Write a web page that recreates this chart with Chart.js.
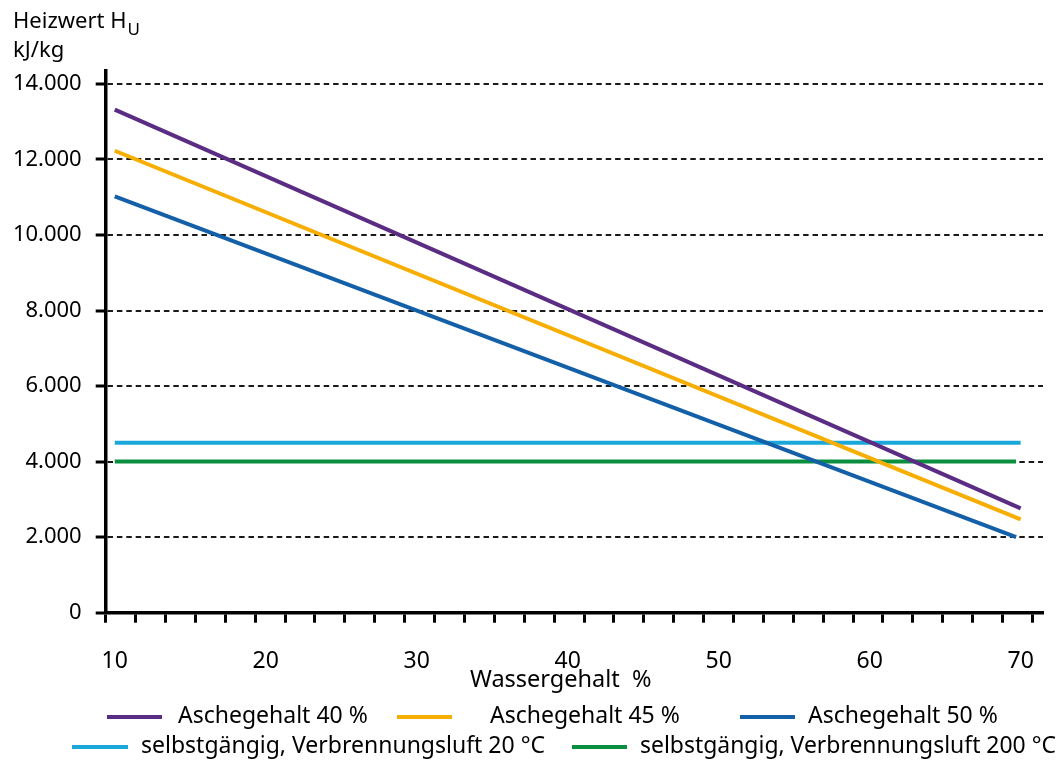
<!DOCTYPE html>
<html>
<head>
<meta charset="utf-8">
<script src="https://cdn.jsdelivr.net/npm/chart.js@4.4.0/dist/chart.umd.min.js"></script>
<style>
  html, body { margin: 0; padding: 0; background: #fff; }
  canvas { display: block; }
</style>
</head>
<body>
<canvas id="heizwert-chart" width="1061" height="763"></canvas>
<script>
// Wassergehalt (%) -> Heizwert Hu (kJ/kg)
const xMin = 9.4, xMax = 71.48
const xLabelTicks = [10, 20, 30, 40, 50, 60, 70]
const yTicks = [0, 2000, 4000, 6000, 8000, 10000, 12000, 14000]
const yMax = 14350

const xAsche40 = [10, 70],   yAsche40 = [13320, 2760]
const xAsche45 = [10, 70],   yAsche45 = [12230, 2470]
const xAsche50 = [10, 69.7], yAsche50 = [11020, 2000]
const xLuft20 = [10, 70],    yLuft20 = [4500, 4500]
const xLuft200 = [10, 69.7], yLuft200 = [4000, 4000]

const seriesNames = ['Aschegehalt 40 %', 'Aschegehalt 45 %', 'Aschegehalt 50 %',
  'selbstgängig, Verbrennungsluft 20 °C', 'selbstgängig, Verbrennungsluft 200 °C']
const seriesColors = ['#5b2c83', '#f8ae00', '#1360a8', '#1aa7d9', '#0a8f3e']

// minor tick marks on the x axis (every ~2 %, starting at the axis origin)
const minorTicks = []
for (let i = 0; i < 32; i++) minorTicks.push(9.4 + i * 1.98)

const FONT = '"Noto Sans", "Open Sans", sans-serif'

function toPoints(xs, ys) {
  return xs.map((x, i) => ({ x: x, y: ys[i] }))
}
function formatDe(v) {
  return v === 0 ? '0' : (v / 1000) + '.000'
}

const series = [
  toPoints(xAsche40, yAsche40),
  toPoints(xAsche45, yAsche45),
  toPoints(xAsche50, yAsche50),
  toPoints(xLuft20, yLuft20),
  toPoints(xLuft200, yLuft200)
]

// legend swatch / text positions: [lineStart, lineEnd, textStart, rowY]
const legendSlots = [
  [107, 162, 178, 717], [397, 452, 490, 717], [740, 795, 808, 717],
  [72, 128, 141, 747], [572, 627, 640, 747]
]

const textPlugin = {
  id: 'texts',
  afterDraw(chart) {
    const c = chart.ctx
    c.save()
    c.fillStyle = '#000'
    c.textBaseline = 'alphabetic'
    c.font = '22px ' + FONT
    c.fillText('Heizwert H', 13, 28)
    const w = c.measureText('Heizwert H').width
    c.font = '17px ' + FONT
    c.fillText('U', 13 + w + 1, 35)
    c.font = '22px ' + FONT
    c.fillText('kJ/kg', 13, 57)
    c.font = '23.5px ' + FONT
    c.fillText('Wassergehalt  %', 470, 687)

    // legend
    chart.data.datasets.forEach((ds, i) => {
      const s = legendSlots[i]
      c.strokeStyle = ds.borderColor
      c.lineWidth = 4
      c.beginPath()
      c.moveTo(s[0], s[3])
      c.lineTo(s[1], s[3])
      c.stroke()
      c.font = '23px ' + FONT
      c.textBaseline = 'middle'
      c.fillText(ds.label, s[2], s[3] - 1, 1056 - s[2])
    })
    c.restore()
  }
}

const ctx = document.getElementById('heizwert-chart')

const heizwertChart = new Chart(ctx, {
  type: 'line',
  data: {
    datasets: series.map((pts, i) => ({
      label: seriesNames[i],
      data: pts,
      borderColor: seriesColors[i],
      backgroundColor: seriesColors[i],
      borderWidth: 4,
      pointRadius: 0,
      tension: 0,
      xAxisID: 'x',
      yAxisID: 'y'
    }))
  },
  options: {
    responsive: false,
    animation: false,
    layout: { padding: { top: 70.7, right: 18, bottom: 80.3, left: 0 } },
    plugins: {
      legend: { display: false },
      tooltip: { enabled: false }
    },
    scales: {
      x: {
        type: 'linear',
        position: 'bottom',
        min: xMin,
        max: xMax,
        afterBuildTicks: scale => { scale.ticks = minorTicks.map(v => ({ value: v })) },
        afterFit: scale => { scale.height = 10 },
        ticks: { display: false },
        grid: { drawOnChartArea: false, drawTicks: true, tickLength: 10, tickWidth: 3, tickColor: '#000' },
        border: { color: '#000', width: 3.5 }
      },
      x2: {
        type: 'linear',
        position: 'bottom',
        min: xMin,
        max: xMax,
        afterBuildTicks: scale => { scale.ticks = xLabelTicks.map(v => ({ value: v })) },
        afterFit: scale => { scale.height = 60 },
        grid: { display: false },
        border: { display: false },
        ticks: { padding: 17, color: '#000', autoSkip: false, maxRotation: 0, font: { family: FONT, size: 23 } }
      },
      y: {
        type: 'linear',
        min: 0,
        max: yMax,
        afterBuildTicks: scale => { scale.ticks = yTicks.map(v => ({ value: v })) },
        afterFit: scale => { scale.width = 105.7 },
        ticks: {
          padding: 14,
          color: '#000',
          autoSkip: false,
          font: { family: FONT, size: 22 },
          callback: v => formatDe(v)
        },
        grid: {
          color: c => (c.tick && c.tick.value === 0) ? 'rgba(0,0,0,0)' : '#1a1a1a',
          lineWidth: 2,
          tickLength: 10,
          tickWidth: 3,
          tickColor: '#000'
        },
        border: { color: '#000', width: 3.5, dash: [5.5, 3.9] }
      }
    }
  },
  plugins: [textPlugin]
})
</script>
</body>
</html>
